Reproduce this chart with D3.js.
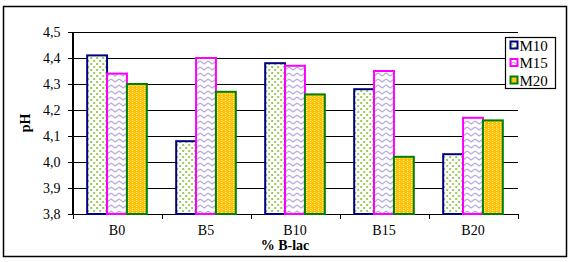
<!DOCTYPE html>
<html lang="en">
<head>
    <meta charset="UTF-8">
    <title>pH vs % B-lac</title>
    <script src="https://d3js.org/d3.v7.min.js"></script>
    <style>
        body { margin: 0; background: #fff; }
        svg text { font-family: "Liberation Serif", "DejaVu Serif", serif; fill: #000; }
        .axis path, .axis line { stroke: #000; shape-rendering: crispEdges; }
        .grid line { stroke: #000; shape-rendering: crispEdges; }
    </style>
</head>
<body>
    <div id="chart"></div>

    <script>
        // data
        const categories = ["B0", "B5", "B10", "B15", "B20"];
        const seriesNames = ["M10", "M15", "M20"];
        const m10 = [4.41, 4.08, 4.38, 4.28, 4.03];
        const m15 = [4.34, 4.40, 4.37, 4.35, 4.17];
        const m20 = [4.30, 4.27, 4.26, 4.02, 4.16];
        const yTicks = [3.8, 3.9, 4.0, 4.1, 4.2, 4.3, 4.4, 4.5];

        const values = { M10: m10, M15: m15, M20: m20 };
        const strokes = { M10: "#000080", M15: "#ff00ff", M20: "#008000" };

        const W = 576, H = 262;
        const plot = { left: 72.5, right: 517.5, top: 32, bottom: 214 };
        const serif = "'Liberation Serif', 'DejaVu Serif', serif";

        const svg = d3.select("#chart").append("svg")
            .attr("width", W)
            .attr("height", H)
            .attr("font-family", serif);

        // fill patterns
        const defs = svg.append("defs");

        const pDots = defs.append("pattern").attr("id", "pat-M10")
            .attr("patternUnits", "userSpaceOnUse").attr("width", 6).attr("height", 6);
        pDots.append("rect").attr("width", 6).attr("height", 6).attr("fill", "#fff");
        pDots.append("rect").attr("x", 0).attr("y", 0).attr("width", 2).attr("height", 2).attr("fill", "#99cc55");
        pDots.append("rect").attr("x", 3).attr("y", 3).attr("width", 2).attr("height", 2).attr("fill", "#99cc55");

        const pWave = defs.append("pattern").attr("id", "pat-M15")
            .attr("patternUnits", "userSpaceOnUse").attr("width", 8).attr("height", 6);
        pWave.append("rect").attr("width", 8).attr("height", 6).attr("fill", "#fff");
        pWave.append("path").attr("d", "M0,1 L4,4 L8,1")
            .attr("fill", "none").attr("stroke", "#b4a8d8").attr("stroke-width", 1.2);

        const pGrid = defs.append("pattern").attr("id", "pat-M20")
            .attr("patternUnits", "userSpaceOnUse").attr("width", 4).attr("height", 4);
        pGrid.append("rect").attr("width", 4).attr("height", 4).attr("fill", "#ffc000");
        pGrid.append("rect").attr("x", 1).attr("y", 0).attr("width", 1).attr("height", 1).attr("fill", "#fff3c0");
        pGrid.append("rect").attr("x", 1).attr("y", 2).attr("width", 1).attr("height", 1).attr("fill", "#fff3c0");
        pGrid.append("rect").attr("x", 3).attr("y", 1).attr("width", 1).attr("height", 1).attr("fill", "#ffe080");

        // outer frame
        svg.append("rect")
            .attr("x", 3.5).attr("y", 6.5)
            .attr("width", 563).attr("height", 250)
            .attr("fill", "none").attr("stroke", "#000").attr("stroke-width", 1.5);

        // scales
        const x0 = d3.scaleBand()
            .domain(categories)
            .range([plot.left, plot.right])
            .paddingInner(0.33)
            .paddingOuter(0.165);

        const x1 = d3.scaleBand()
            .domain(seriesNames)
            .range([0, x0.bandwidth()]);

        const y = d3.scaleLinear()
            .domain([3.8, 4.5])
            .range([plot.bottom, plot.top]);

        const fmt = d => d3.format(".1f")(d).replace(".", ",");

        // gridlines
        svg.append("g").attr("class", "grid")
            .selectAll("line")
            .data(yTicks.slice(1))
            .enter().append("line")
            .attr("x1", plot.left).attr("x2", plot.right)
            .attr("y1", d => Math.round(y(d)) + 0.5)
            .attr("y2", d => Math.round(y(d)) + 0.5);

        // y axis
        svg.append("g")
            .attr("class", "axis")
            .attr("transform", "translate(" + plot.left + ",0)")
            .call(d3.axisLeft(y).tickValues(yTicks).tickFormat(fmt).tickSize(5).tickSizeOuter(0).tickPadding(7))
            .call(g => g.attr("font-family", serif).attr("font-size", 14))
            .call(g => g.select(".domain").attr("stroke-width", 1.2));

        // x axis: category labels plus boundary ticks
        const xAxis = svg.append("g")
            .attr("class", "axis")
            .attr("transform", "translate(0," + plot.bottom + ")");
        xAxis.append("line")
            .attr("x1", plot.left).attr("x2", plot.right)
            .attr("y1", 0).attr("y2", 0);
        const step = x0.step();
        xAxis.selectAll(".btick")
            .data(d3.range(categories.length + 1))
            .enter().append("line")
            .attr("class", "btick")
            .attr("x1", i => Math.round(plot.left + i * step) + 0.5)
            .attr("x2", i => Math.round(plot.left + i * step) + 0.5)
            .attr("y1", 0).attr("y2", 5);
        xAxis.selectAll(".clabel")
            .data(categories)
            .enter().append("text")
            .attr("class", "clabel")
            .attr("x", d => x0(d) + x0.bandwidth() / 2)
            .attr("y", 21)
            .attr("text-anchor", "middle")
            .attr("font-size", 14)
            .text(d => d);

        // bars
        const rows = categories.map((c, i) => ({
            cat: c,
            bars: seriesNames.map(s => ({ key: s, value: values[s][i] }))
        }));

        svg.append("g")
            .selectAll("g")
            .data(rows)
            .enter().append("g")
            .attr("transform", d => "translate(" + x0(d.cat) + ",0)")
            .selectAll("rect")
            .data(d => d.bars)
            .enter().append("rect")
            .attr("x", d => x1(d.key))
            .attr("y", d => y(d.value))
            .attr("width", x1.bandwidth())
            .attr("height", d => y(3.8) - y(d.value))
            .attr("fill", d => "url(#pat-" + d.key + ")")
            .attr("stroke", d => strokes[d.key])
            .attr("stroke-width", 2);

        // axis titles
        svg.append("text")
            .attr("transform", "translate(30," + ((plot.top + plot.bottom) / 2) + ") rotate(-90)")
            .attr("text-anchor", "middle")
            .attr("font-size", 14)
            .attr("font-weight", "bold")
            .text("pH");

        svg.append("text")
            .attr("x", 285)
            .attr("y", 250)
            .attr("text-anchor", "middle")
            .attr("font-size", 14)
            .attr("font-weight", "bold")
            .text("% B-lac");

        // legend
        const legend = svg.append("g").attr("transform", "translate(505.5,37.5)");
        legend.append("rect")
            .attr("width", 50).attr("height", 51)
            .attr("fill", "#fff").attr("stroke", "#000").attr("stroke-width", 1.2);
        const item = legend.selectAll(".item")
            .data(seriesNames)
            .enter().append("g")
            .attr("class", "item")
            .attr("transform", (d, i) => "translate(0," + (i * 17.5) + ")");
        item.append("rect")
            .attr("x", 5).attr("y", 4)
            .attr("width", 7).attr("height", 7)
            .attr("fill", d => "url(#pat-" + d + ")")
            .attr("stroke", d => strokes[d])
            .attr("stroke-width", 2);
        item.append("text")
            .attr("x", 14).attr("y", 13)
            .attr("font-size", 15)
            .text(d => d);
    </script>
</body>
</html>
